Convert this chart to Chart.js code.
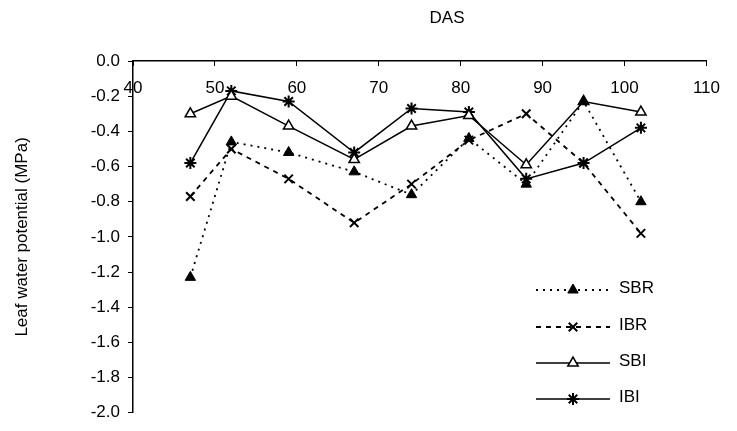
<!DOCTYPE html>
<html>
<head>
<meta charset="utf-8">
<script src="https://cdn.jsdelivr.net/npm/chart.js@4/dist/chart.umd.min.js"></script>
<style>
  body { margin: 0; background: #fff; }
  canvas { display: block; }
</style>
</head>
<body>
<canvas id="myChart" width="737" height="431"></canvas>
<script>
// days after sowing
const das = [47, 52, 59, 67, 74, 81, 88, 95, 102]

// leaf water potential, MPa
const sbr = [-1.23, -0.46, -0.52, -0.63, -0.76, -0.44, -0.70, -0.23, -0.80]
const ibr = [-0.77, -0.50, -0.67, -0.92, -0.70, -0.45, -0.30, -0.58, -0.98]
const sbi = [-0.30, -0.20, -0.37, -0.56, -0.37, -0.31, -0.59, -0.23, -0.29]
const ibi = [-0.58, -0.17, -0.23, -0.52, -0.27, -0.29, -0.67, -0.58, -0.38]

const seriesNames = ["SBR", "IBR", "SBI", "IBI"]
const xTicks = [40, 50, 60, 70, 80, 90, 100, 110]

const FONT = "'Liberation Sans', Arial, sans-serif"

const toPoints = (vals) => das.map((d, i) => ({ x: d, y: vals[i] }))

const chartData = {
  datasets: [
    {
      label: seriesNames[0],
      data: toPoints(sbr),
      borderColor: "#000",
      backgroundColor: "#000",
      borderWidth: 1.8,
      borderDash: [2, 5],
      pointStyle: "triangle",
      pointRadius: 6,
      pointBackgroundColor: "#000",
      pointBorderColor: "#000",
      pointBorderWidth: 1,
    },
    {
      label: seriesNames[1],
      data: toPoints(ibr),
      borderColor: "#000",
      backgroundColor: "#000",
      borderWidth: 1.8,
      borderDash: [5, 5],
      pointStyle: "crossRot",
      pointRadius: 6,
      pointBorderColor: "#000",
      pointBorderWidth: 2,
    },
    {
      label: seriesNames[2],
      data: toPoints(sbi),
      borderColor: "#000",
      backgroundColor: "#fff",
      borderWidth: 1.5,
      pointStyle: "triangle",
      pointRadius: 6,
      pointBackgroundColor: "#fff",
      pointBorderColor: "#000",
      pointBorderWidth: 1.5,
    },
    {
      label: seriesNames[3],
      data: toPoints(ibi),
      borderColor: "#000",
      backgroundColor: "#000",
      borderWidth: 1.5,
      pointStyle: "star",
      pointRadius: 6,
      pointBorderColor: "#000",
      pointBorderWidth: 2,
    },
  ],
}

// legend in the lower right, line sample + marker + name
const legendBox = {
  id: "legendBox",
  afterDraw(chart) {
    const ctx = chart.ctx
    const rows = [290, 327, 363, 399]
    ctx.save()
    chart.data.datasets.forEach((ds, i) => {
      const y = rows[i]
      ctx.strokeStyle = "#000"
      ctx.lineWidth = ds.borderWidth
      ctx.setLineDash(ds.borderDash || [])
      ctx.beginPath()
      ctx.moveTo(536, y)
      ctx.lineTo(610, y)
      ctx.stroke()
      ctx.setLineDash([])
      ctx.fillStyle = ds.pointBackgroundColor || "#000"
      ctx.strokeStyle = "#000"
      ctx.lineWidth = ds.pointBorderWidth
      Chart.helpers.drawPoint(ctx, {
        pointStyle: ds.pointStyle,
        radius: ds.pointRadius,
        borderWidth: ds.pointBorderWidth,
        rotation: 0,
      }, 573, y)
      ctx.fillStyle = "#000"
      ctx.font = "17px " + FONT
      ctx.textAlign = "left"
      ctx.textBaseline = "middle"
      ctx.fillText(ds.label, 619, y - 2)
    })
    // x axis title sits above the axis, a little right of centre
    ctx.font = "17px " + FONT
    ctx.textAlign = "center"
    ctx.textBaseline = "middle"
    ctx.fillText("DAS", 447, 18)
    ctx.restore()
  },
}

const config = {
  type: "scatter",
  data: chartData,
  options: {
    responsive: false,
    animation: false,
    showLine: true,
    layout: { padding: { top: 0, left: 0, right: 19, bottom: 8 } },
    plugins: {
      legend: { display: false },
      tooltip: { enabled: false },
    },
    scales: {
      x: {
        type: "linear",
        position: "top",
        min: 40,
        max: 110,
        afterBuildTicks: (axis) => { axis.ticks = xTicks.map(v => ({ value: v })) },
        afterFit: (axis) => { axis.height = 61 },
        ticks: {
          mirror: true,
          padding: 17,
          color: "#000",
          autoSkip: false,
          maxRotation: 0,
          font: { family: FONT, size: 17 },
        },
        grid: { drawOnChartArea: false, drawTicks: true, tickLength: -5, color: "#000" },
        border: { color: "#000", width: 1.5 },
      },
      y: {
        min: -2,
        max: 0,
        afterFit: (axis) => { axis.width = 133 },
        ticks: {
          stepSize: 0.2,
          padding: 8,
          color: "#000",
          font: { family: FONT, size: 17 },
          callback: (v) => Number(v).toFixed(1),
        },
        grid: { drawOnChartArea: false, drawTicks: true, tickLength: 5, color: "#000" },
        border: { color: "#000", width: 1.5 },
        title: {
          display: true,
          text: "Leaf water potential (MPa)",
          color: "#000",
          font: { family: FONT, size: 17 },
          padding: { top: 12, bottom: 0 },
        },
      },
    },
  },
  plugins: [legendBox],
}

const salesChart = new Chart(document.getElementById("myChart"), config)
</script>
</body>
</html>
